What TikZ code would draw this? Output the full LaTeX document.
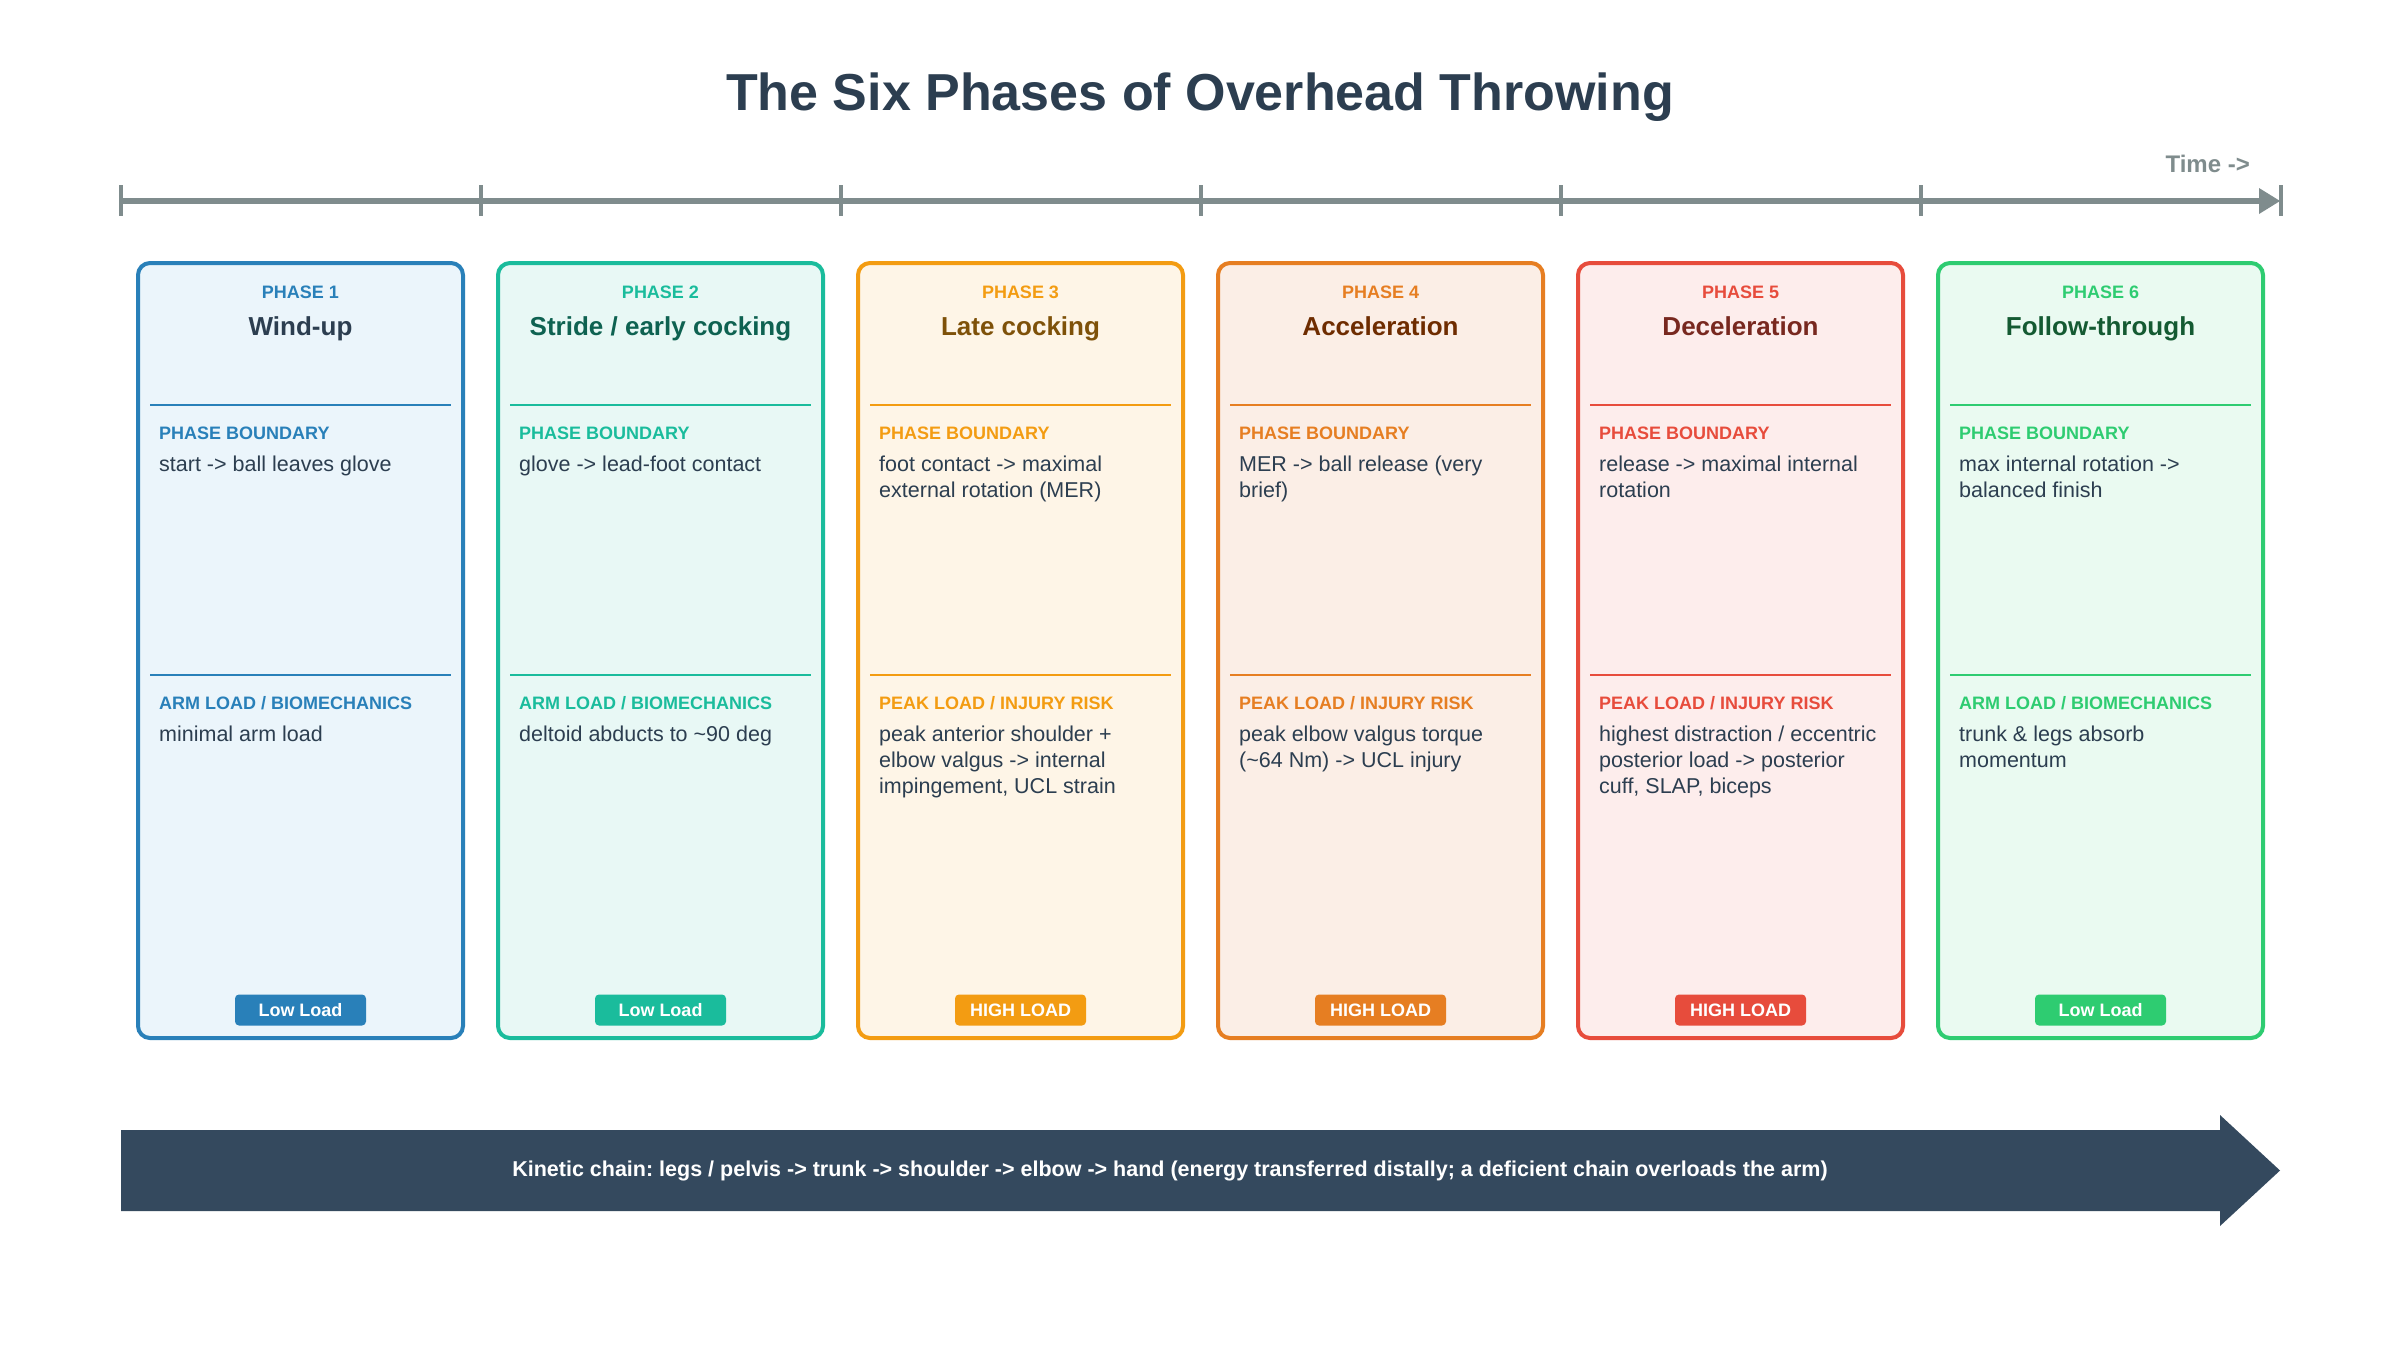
\documentclass[tikz,border=0pt]{standalone}
\usepackage{fontspec}
\setmainfont{Liberation Sans}
\frenchspacing
\definecolor{ink}{HTML}{2C3E50}
\definecolor{tlgray}{HTML}{7F8C8D}
\definecolor{kin}{HTML}{34495E}
\definecolor{acc1}{HTML}{2980B9}\definecolor{bg1}{HTML}{EBF5FB}\definecolor{tt1}{HTML}{2C3E50}
\definecolor{acc2}{HTML}{1ABC9C}\definecolor{bg2}{HTML}{E8F8F5}\definecolor{tt2}{HTML}{0E6251}
\definecolor{acc3}{HTML}{F39C12}\definecolor{bg3}{HTML}{FEF5E7}\definecolor{tt3}{HTML}{7E5109}
\definecolor{acc4}{HTML}{E67E22}\definecolor{bg4}{HTML}{FBEEE6}\definecolor{tt4}{HTML}{6E2C00}
\definecolor{acc5}{HTML}{E74C3C}\definecolor{bg5}{HTML}{FDEDEC}\definecolor{tt5}{HTML}{78281F}
\definecolor{acc6}{HTML}{2ECC71}\definecolor{bg6}{HTML}{EAFAF1}\definecolor{tt6}{HTML}{145A32}
\tikzset{
  cardbox/.style={draw, line width=4pt, rounded corners=12pt, minimum width=325pt, minimum height=775pt, inner sep=0pt},
  phaselbl/.style={anchor=base, inner sep=0pt, font=\fontsize{18}{22}\selectfont\bfseries},
  phasettl/.style={anchor=base, inner sep=0pt, font=\fontsize{26}{31}\selectfont\bfseries},
  hdr/.style={anchor=base west, inner sep=0pt, font=\fontsize{18}{22}\selectfont\bfseries},
  bodytxt/.style={anchor=base west, inner sep=0pt, text=ink, font=\fontsize{21.5}{26}\selectfont},
  divider/.style={line width=1.5pt},
  badge/.style={rounded corners=4pt, minimum width=131pt, minimum height=31pt, inner sep=0pt, text=white, font=\fontsize{18}{22}\selectfont\bfseries},
  tline/.style={tlgray, line width=5.5pt},
  tick/.style={tlgray, line width=4pt},
}
\newcommand\phasecard[6]{%
  \pgfmathsetmacro\cl{136+360*(#1-1)}%
  \pgfmathsetmacro\cc{\cl+164.5}%
  \node[cardbox, draw=acc#1, fill=bg#1] (card#1) at (\cc,650.5) {};
  \node[phaselbl, text=acc#1] (lab#1) at (\cc,298.5) {PHASE #1};
  \node[phasettl, text=tt#1] (ttl#1) at (\cc,335.5) {#2};
  \coordinate (da#1) at ({\cl+14},405);
  \coordinate (db#1) at ({\cl+315},405);
  \coordinate (dc#1) at ({\cl+14},675);
  \coordinate (dd#1) at ({\cl+315},675);
  \draw[divider, acc#1] (da#1) -- (db#1);
  \draw[divider, acc#1] (dc#1) -- (dd#1);
  \node[hdr, text=acc#1] (hb#1) at ({\cl+23},439.5) {PHASE BOUNDARY};
  \node[bodytxt] (bb#1) at ({\cl+23},471) {\parbox[t]{300pt}{\raggedright #4}};
  \node[hdr, text=acc#1] (hl#1) at ({\cl+23},709.5) {#3};
  \node[bodytxt] (bl#1) at ({\cl+23},741) {\parbox[t]{300pt}{\raggedright #5}};
  \node[badge, fill=acc#1] (badge#1) at (\cc,1010) {#6};
}
\begin{document}
\begin{tikzpicture}[x=1pt,y=-1pt]
\useasboundingbox (0,0) rectangle (2400,1350);
\fill[white] (0,0) rectangle (2400,1350);
% title
\node[anchor=base, inner sep=0pt, text=ink, font=\fontsize{52}{62}\selectfont\bfseries] (title) at (1200,110) {The Six Phases of Overhead Throwing};
% timeline
\node[anchor=base east, inner sep=0pt, text=tlgray, font=\fontsize{24}{28}\selectfont\bfseries] (timelbl) at (2250,172) {Time ->};
\coordinate (tstart) at (121,201);
\coordinate (tend) at (2262,201);
\draw[tline] (tstart) -- (tend);
\fill[tlgray] (2280,201) -- (2259,188) -- (2259,214) -- cycle;
\foreach \k in {0,...,6}{
  \coordinate (tka\k) at ({121+360*\k},185);
  \coordinate (tkb\k) at ({121+360*\k},216);
  \draw[tick] (tka\k) -- (tkb\k);
}
% cards
\phasecard{1}{Wind-up}{ARM LOAD / BIOMECHANICS}{start -> ball leaves glove}{minimal arm load}{Low Load}
\phasecard{2}{Stride / early cocking}{ARM LOAD / BIOMECHANICS}{glove -> lead-foot contact}{deltoid abducts to \textasciitilde 90 deg}{Low Load}
\phasecard{3}{Late cocking}{PEAK LOAD / INJURY RISK}{foot contact -> maximal\\external rotation (MER)}{peak anterior shoulder +\\elbow valgus -> internal\\impingement, UCL strain}{HIGH LOAD}
\phasecard{4}{Acceleration}{PEAK LOAD / INJURY RISK}{MER -> ball release (very\\brief)}{peak elbow valgus torque\\(\textasciitilde 64 Nm) -> UCL injury}{HIGH LOAD}
\phasecard{5}{Deceleration}{PEAK LOAD / INJURY RISK}{release -> maximal internal\\rotation}{highest distraction / eccentric\\posterior load -> posterior\\cuff, SLAP, biceps}{HIGH LOAD}
\phasecard{6}{Follow-through}{ARM LOAD / BIOMECHANICS}{max internal rotation ->\\balanced finish}{trunk \& legs absorb\\momentum}{Low Load}
% kinetic chain arrow
\fill[kin] (121,1130) -- (2220,1130) -- (2220,1115) -- (2280,1170.5) -- (2220,1226) -- (2220,1211) -- (121,1211) -- cycle;
\node[anchor=base, inner sep=0pt, text=white, font=\fontsize{21.5}{26}\selectfont\bfseries] (kinlbl) at (1170,1176.5) {Kinetic chain: legs / pelvis -> trunk -> shoulder -> elbow -> hand (energy transferred distally; a deficient chain overloads the arm)};
\end{tikzpicture}
\end{document}
